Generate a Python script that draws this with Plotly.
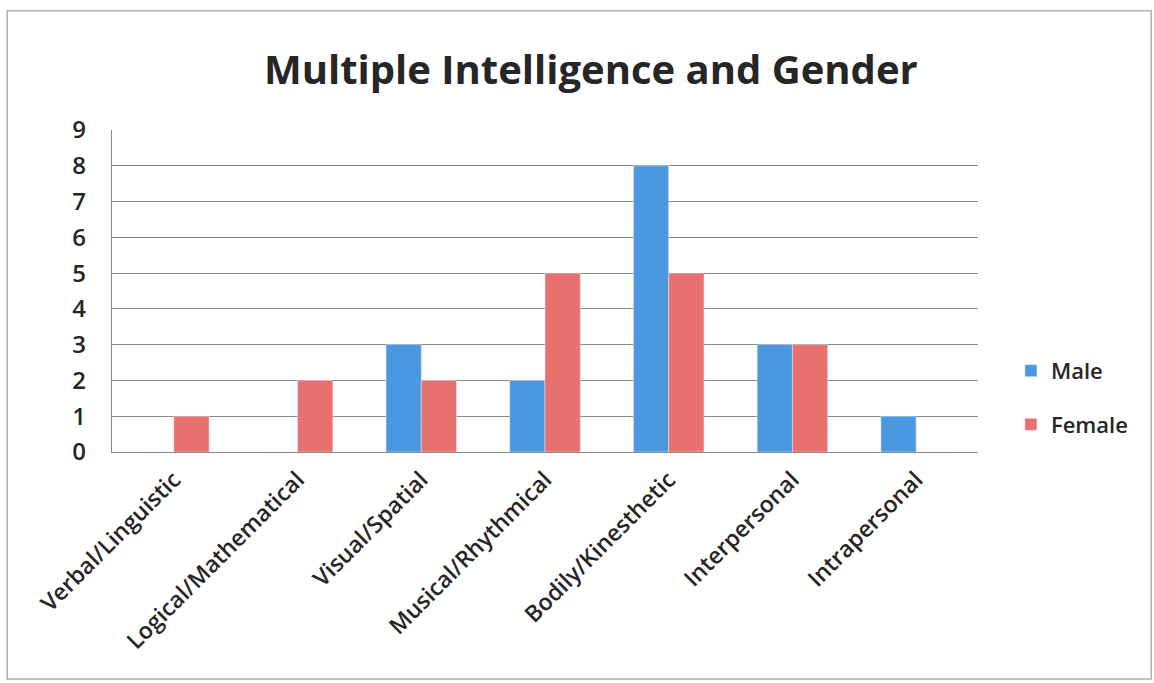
import plotly.graph_objects as go

categories = ["Verbal/Linguistic", "Logical/Mathematical", "Visual/Spatial",
              "Musical/Rhythmical", "Bodily/Kinesthetic", "Interpersonal", "Intrapersonal"]
male = [0, 0, 3, 2, 8, 3, 1]
female = [1, 2, 2, 5, 5, 3, 0]
y_ticks = list(range(0, 10))

FONT = "Open Sans"
TXT = "#262626"
fig = go.Figure()
fig.add_trace(go.Bar(x=categories, y=male, name="Male", marker_color="#4A98E0",
                     legendgroup="m"))
fig.add_trace(go.Bar(x=categories, y=female, name="Female", marker_color="#E8706F",
                     legendgroup="f"))

fig.update_layout(
    width=1154, height=683,
    margin=dict(l=112, r=176, t=130, b=231),
    paper_bgcolor="white", plot_bgcolor="white",
    barmode="group", bargap=0.43, bargroupgap=0,
    title=dict(text="Multiple Intelligence and Gender", x=0.512, xanchor="center",
               y=0.897, yanchor="middle",
               font=dict(family=FONT, size=40, color=TXT, weight=700)),
    font=dict(family=FONT, color=TXT),
    legend=dict(x=1.038, y=0.168, xanchor="left", yanchor="middle",
                font=dict(size=22, family=FONT, color=TXT, weight=600),
                tracegroupgap=22, traceorder="grouped", bgcolor="rgba(0,0,0,0)"),
    showlegend=True,
)
fig.update_yaxes(range=[0, 9], tickvals=y_ticks, showgrid=True, gridcolor="#8a8a8a",
                 gridwidth=1.2, showline=True, linecolor="#8a8a8a", linewidth=1.2,
                 tickfont=dict(size=24, family=FONT, color=TXT, weight=600), ticks="",
                 ticklabelstandoff=20, zeroline=False)
fig.update_xaxes(showline=True, linecolor="#8a8a8a", linewidth=1.2, tickangle=-45,
                 tickfont=dict(size=23, family=FONT, color=TXT, weight=600), ticks="",
                 ticklabelstandoff=4)
fig.add_shape(type="rect", xref="paper", yref="paper",
              x0=-0.121, x1=1.2, y0=-0.705, y1=1.37,
              line=dict(color="#b0b0b0", width=1.5))
fig.write_html("out.html")
